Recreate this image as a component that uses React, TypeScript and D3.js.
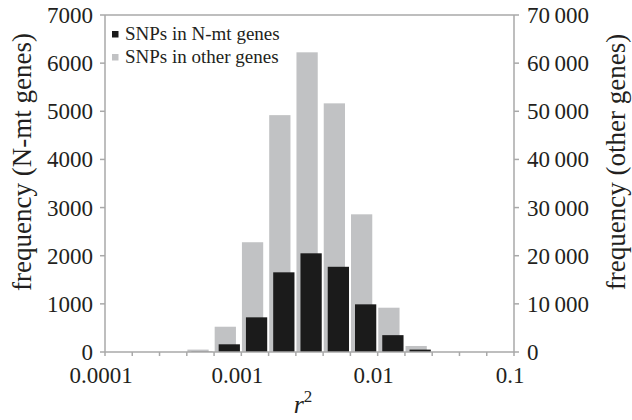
import React, { useRef, useEffect } from 'react';
import * as d3 from 'd3';

// bins of r^2, 0.2 decade wide, from 0.0001 to 0.1 (lower edges)
const binStarts = d3.range(15).map(i => 1e-4 * Math.pow(10, i * 0.2));
const binStep = Math.pow(10, 0.2);

// frequency of SNPs in N-mt genes (left axis)
const nmtCounts = [0, 0, 0, 5, 160, 720, 1655, 2050, 1770, 990, 350, 50, 0, 0, 0];
// frequency of SNPs in other genes (right axis)
const otherCounts = [0, 0, 0, 500, 5250, 22800, 49200, 62250, 51650, 28600, 9200, 1250, 0, 0, 0];

const leftTicks = [0, 1000, 2000, 3000, 4000, 5000, 6000, 7000];
const rightTicks = [0, 10000, 20000, 30000, 40000, 50000, 60000, 70000];
const xTickLabels = [0.0001, 0.001, 0.01, 0.1];

const legendItems = [
  { label: 'SNPs in N-mt genes', color: '#1b1b1b' },
  { label: 'SNPs in other genes', color: '#c1c2c4' },
];

const W = 632;
const H = 420;
const font = '"Liberation Serif", "Times New Roman", serif';
const axisColor = '#a9a9a9';

const App: React.FC = () => {
  const svgRef = useRef<SVGSVGElement>(null);

  useEffect(() => {
    if (!svgRef.current) return;
    const svg = d3.select(svgRef.current);
    svg.selectAll('*').remove();

    const left = 105, right = 514, top = 15, bottom = 352;

    const x = d3.scaleLog().domain([1e-4, 1e-1]).range([left, right]);
    const yL = d3.scaleLinear().domain([0, 7000]).range([bottom, top]);
    const yR = d3.scaleLinear().domain([0, 70000]).range([bottom, top]);

    const binW = x(binStarts[1]) - x(binStarts[0]);
    const barW = binW * 0.78;

    // gray bars (other genes), behind
    svg.append('g')
      .selectAll('rect')
      .data(otherCounts.map((v, i) => ({ v, s: binStarts[i] })).filter(d => d.v > 0))
      .join('rect')
      .attr('x', d => x(d.s) + 0.6)
      .attr('width', barW)
      .attr('y', d => yR(d.v))
      .attr('height', d => bottom - yR(d.v))
      .attr('fill', legendItems[1].color);

    // black bars (N-mt genes)
    svg.append('g')
      .selectAll('rect')
      .data(nmtCounts.map((v, i) => ({ v, s: binStarts[i] })).filter(d => d.v > 0))
      .join('rect')
      .attr('x', d => x(d.s) + 4.6)
      .attr('width', barW)
      .attr('y', d => yL(d.v))
      .attr('height', d => bottom - yL(d.v))
      .attr('fill', legendItems[0].color);

    // frame
    const frame = svg.append('g').attr('stroke', axisColor).attr('stroke-width', 1.5).attr('fill', 'none');
    frame.append('line').attr('x1', left).attr('x2', right).attr('y1', top).attr('y2', top);
    frame.append('line').attr('x1', left).attr('x2', right).attr('y1', bottom).attr('y2', bottom);
    frame.append('line').attr('x1', left).attr('x2', left).attr('y1', top).attr('y2', bottom);
    frame.append('line').attr('x1', right).attr('x2', right).attr('y1', top).attr('y2', bottom);

    // x ticks at every bin edge
    const edges = [...binStarts, binStarts[14] * binStep];
    frame.selectAll('line.xt')
      .data(edges)
      .join('line')
      .attr('class', 'xt')
      .attr('x1', d => x(d)).attr('x2', d => x(d))
      .attr('y1', bottom).attr('y2', bottom + 4);

    frame.selectAll('line.yl')
      .data(leftTicks)
      .join('line')
      .attr('class', 'yl')
      .attr('x1', left - 5).attr('x2', left)
      .attr('y1', d => yL(d)).attr('y2', d => yL(d));

    frame.selectAll('line.yr')
      .data(rightTicks)
      .join('line')
      .attr('class', 'yr')
      .attr('x1', right).attr('x2', right + 5)
      .attr('y1', d => yR(d)).attr('y2', d => yR(d));

    const txt = svg.append('g').attr('font-family', font).attr('fill', '#231f20');

    txt.selectAll('text.yl')
      .data(leftTicks)
      .join('text')
      .attr('class', 'yl')
      .attr('x', 93)
      .attr('y', d => yL(d))
      .attr('dy', '0.35em')
      .attr('text-anchor', 'end')
      .attr('font-size', 23)
      .text(d => String(d));

    txt.selectAll('text.yr')
      .data(rightTicks)
      .join('text')
      .attr('class', 'yr')
      .attr('x', 527)
      .attr('y', d => yR(d))
      .attr('dy', '0.35em')
      .attr('font-size', 23)
      .text(d => d === 0 ? '0' : d3.format(',')(d).replace(',', '\u2009'));

    txt.selectAll('text.xl')
      .data(xTickLabels)
      .join('text')
      .attr('class', 'xl')
      .attr('x', d => x(d) - 4)
      .attr('y', 383)
      .attr('text-anchor', 'middle')
      .attr('font-size', 23)
      .text(d => String(d));

    // axis titles
    txt.append('text')
      .attr('transform', `translate(31,162) rotate(-90)`)
      .attr('text-anchor', 'middle')
      .attr('font-size', 27)
      .text('frequency (N-mt genes)');

    txt.append('text')
      .attr('transform', `translate(625,162) rotate(-90)`)
      .attr('text-anchor', 'middle')
      .attr('font-size', 27)
      .text('frequency (other genes)');

    const xt = txt.append('text')
      .attr('x', 303)
      .attr('y', 413)
      .attr('text-anchor', 'middle')
      .attr('font-size', 26);
    xt.append('tspan').attr('font-style', 'italic').text('r');
    xt.append('tspan').attr('font-size', 17).attr('dy', -11).text('2');

    // legend
    const lg = svg.append('g');
    legendItems.forEach((it, i) => {
      lg.append('rect')
        .attr('x', 112).attr('y', 31 + i * 23)
        .attr('width', 6.5).attr('height', 6.5)
        .attr('fill', it.color);
      lg.append('text')
        .attr('x', 125).attr('y', 40 + i * 23)
        .attr('font-family', font)
        .attr('font-size', 19)
        .attr('fill', '#231f20')
        .text(it.label);
    });
  }, []);

  return (
    <svg
      ref={svgRef}
      width={W}
      height={H}
      style={{ position: 'absolute', left: 0, top: 0, background: '#fff' }}
    />
  );
};

export default App;
